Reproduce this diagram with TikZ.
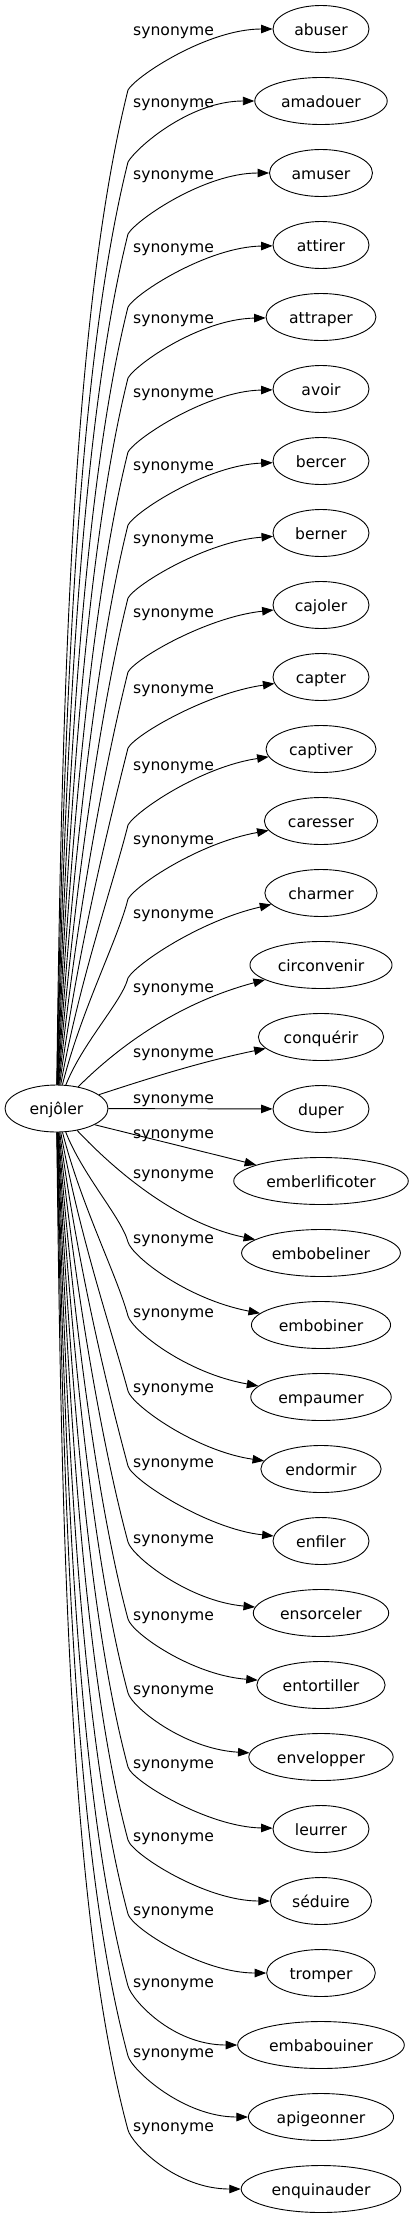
\documentclass[tikz,border=0pt]{standalone}
\usepackage{fontspec}
\setmainfont{DejaVu Sans}
\usetikzlibrary{shapes.geometric,arrows.meta,calc}
\begin{document}
\begin{tikzpicture}[x=1pt,y=-1pt,
  every node/.style={font=\fontsize{15.6}{18}\selectfont},
  word/.style={draw, ellipse, line width=0.9pt, inner xsep=7pt, inner ysep=0pt,
    minimum width=96pt, minimum height=47pt, text height=12pt, text depth=0pt},
  lab/.style={anchor=base west, inner sep=0pt},
  edge/.style={line width=0.9pt, -{Triangle[length=11.5pt,width=8.5pt]}}]
\useasboundingbox (0,0) rectangle (414,2219);
\node[word, minimum width=103pt] (src) at (56.5,1108.5) {enjôler};
\foreach \i/\w in {0/abuser,1/amadouer,2/amuser,3/attirer,4/attraper,5/avoir,
  6/bercer,7/berner,8/cajoler,9/capter,10/captiver,11/caresser,12/charmer,
  13/circonvenir,14/conquérir,15/duper,16/emberlificoter,17/embobeliner,
  18/embobiner,19/empaumer,20/endormir,21/enfiler,22/ensorceler,23/entortiller,
  24/envelopper,25/leurrer,26/séduire,27/tromper,28/embabouiner,29/apigeonner,
  30/enquinauder}
  \node[word] (t\i) at (321,{29+72*\i}) {\w};
\foreach \i/\L in {0/30,1/102,2/174,3/247,4/318,5/392,6/465,7/538,8/612,9/688,
  10/765,11/839,12/913,13/987,14/1052,15/1098,16/1133,17/1173,18/1238,19/1312,
  20/1387,21/1462,22/1538,23/1615,24/1689,25/1763,26/1836,27/1910,28/1982,
  29/2052,30/2126}
  \node[lab] (lab\i) at (133,{\L+5}) {synonyme};
% upper edges
\foreach \i/\L/\ko/\d in {0/30/60/0,1/102/60/0,2/174/60/0,3/247/60/1,4/318/60/1,
  5/392/60/1,6/465/60/2,7/538/60/4,8/612/60/6,9/688/60/8,10/765/60/9,
  11/839/60/11,12/913/65/14}{
  \pgfmathsetmacro\myky{\L+\ko}
  \pgfmathsetmacro\myD{1085-\myky}
  \pgfmathsetmacro\mys{max(0.01,71/\myD-0.06)}
  \pgfmathsetmacro\myax{57+0.4*\myD*\mys}
  \pgfmathsetmacro\myay{1085-0.4*\myD}
  \pgfmathsetmacro\myh{0.22*\myD}
  \pgfmathsetmacro\mybx{128-0.25*\myh}
  \pgfmathsetmacro\myby{\myky+\myh}
  \pgfmathsetmacro\mydd{2*\d}
  \coordinate (k\i) at (128,\myky);
  \draw[edge] (src) .. controls (\myax,\myay) and (\mybx,\myby) .. (k\i)
    .. controls ($(k\i)+(8,-14)$) and ($(t\i.west)+(-65,\mydd)$) .. (t\i);
}
% lower edges
\foreach \i/\L/\d in {18/1238/-13,19/1312/-12,20/1387/-9,21/1462/-6,22/1538/-6,
  23/1615/-5,24/1689/-4,25/1763/-1,26/1836/0,27/1910/0,28/1982/0,29/2052/0,
  30/2126/0}{
  \pgfmathsetmacro\myky{\L+4}
  \pgfmathsetmacro\myD{\myky-1131}
  \pgfmathsetmacro\mys{max(0.01,71/\myD-0.06)}
  \pgfmathsetmacro\myax{57+0.4*\myD*\mys}
  \pgfmathsetmacro\myay{1131+0.4*\myD}
  \pgfmathsetmacro\myh{0.22*\myD}
  \pgfmathsetmacro\mybx{128-0.27*\myh}
  \pgfmathsetmacro\myby{\myky-\myh}
  \pgfmathsetmacro\mydd{2*\d}
  \coordinate (k\i) at (128,\myky);
  \draw[edge] (src) .. controls (\myax,\myay) and (\mybx,\myby) .. (k\i)
    .. controls ($(k\i)+(4,14)$) and ($(t\i.west)+(-65,\mydd)$) .. (t\i);
}
% middle edges
\draw[edge] (src) .. controls (110,1055) and (170,1005) .. (t13);
\draw[edge] (src) .. controls (150,1078) and (200,1062) .. (t14);
\draw[edge] (src) -- (t15);
\draw[edge] (src.-23) -- (t16);
\draw[edge] (src) .. controls (105,1160) and (170,1222) .. (t17);
\end{tikzpicture}
\end{document}
